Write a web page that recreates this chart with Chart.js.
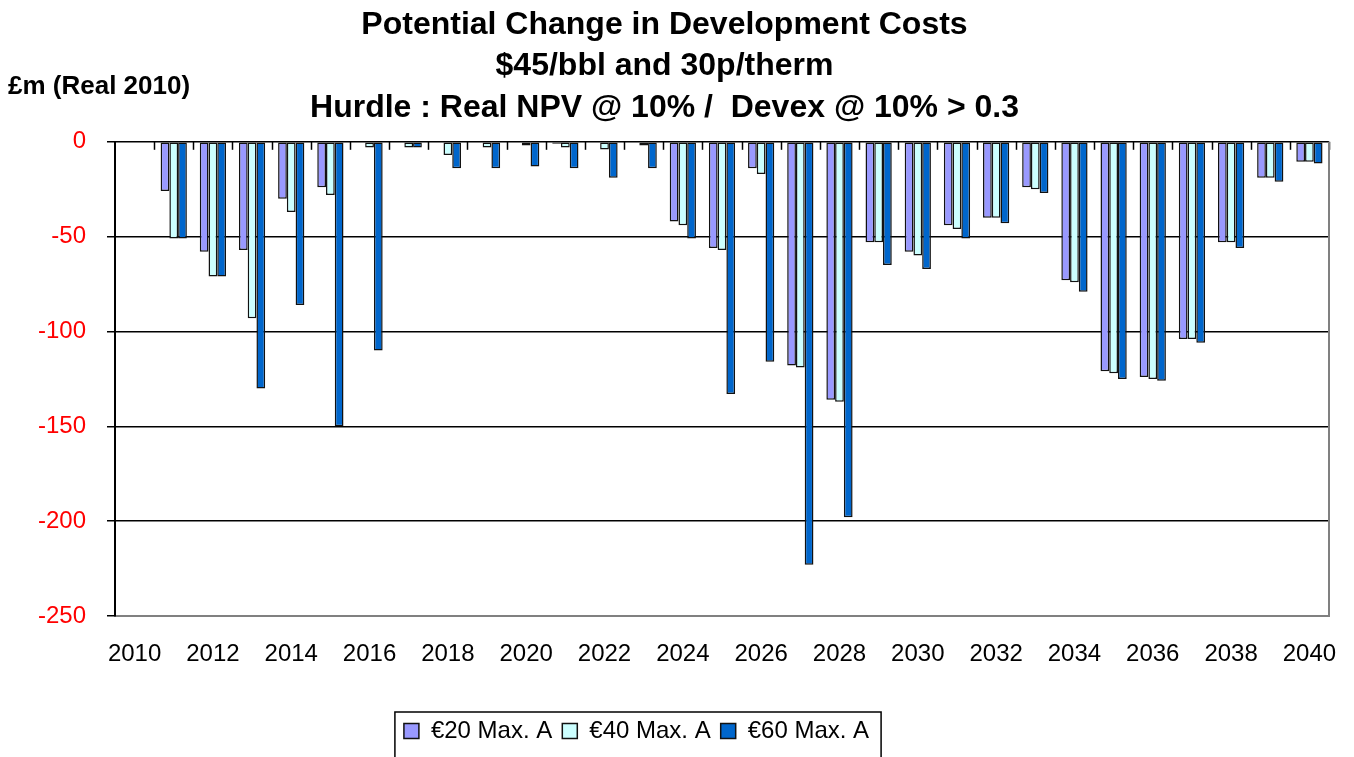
<!DOCTYPE html>
<html>
<head>
  <title>Potential Change in Development Costs</title>
  <style>
    html, body { margin: 0; padding: 0; background: #fff; }
    #wrap { width: 1354px; height: 757px; }
  </style>
</head>
<body>
  <div id="wrap"><canvas id="canvas" width="1354" height="757"></canvas></div>
  <script src="https://cdn.jsdelivr.net/npm/chart.js"></script>
  <script>
    // Years on the category axis
    const years = [2010, 2011, 2012, 2013, 2014, 2015, 2016, 2017, 2018, 2019, 2020,
                   2021, 2022, 2023, 2024, 2025, 2026, 2027, 2028, 2029, 2030,
                   2031, 2032, 2033, 2034, 2035, 2036, 2037, 2038, 2039, 2040];

    // £m (Real 2010)
    const eur20 = [0, -26, -58, -57, -30, -24, 0, 0, 0, 0, 0,
                   -1, 0, 0, -42, -56, -14, -118, -136, -53, -58,
                   -44, -40, -24, -73, -121, -124, -104, -53, -19, -10.5];
    const eur40 = [0, -51, -71, -93, -37, -28, -3, -3, -7, -3, -2,
                   -3, -4, -2, -44, -57, -17, -119, -137, -53, -60,
                   -46, -40, -25, -74, -122, -125, -104, -53, -19, -10.5];
    const eur60 = [0, -51, -71, -130, -86, -150, -110, -3, -14, -14, -13,
                   -14, -19, -14, -51, -133, -116, -223, -198, -65, -67,
                   -51, -43, -27, -79, -125, -126, -106, -56, -21, -11.5];

    const seriesNames = ['€20 Max. A', '€40 Max. A', '€60 Max. A'];
    const yTicks = [0, -50, -100, -150, -200, -250];

    const titleLines = ['Potential Change in Development Costs',
                        '$45/bbl and 30p/therm',
                        'Hurdle : Real NPV @ 10% /  Devex @ 10% > 0.3'];
    const unitLabel = '£m (Real 2010)';

    const FONT = '"Liberation Sans", Arial, sans-serif';

    // extra bits Excel draws: unit label, tick marks on the zero line, plot border, legend box
    const extras = {
      id: 'extras',
      afterLayout(chart) {
        // legend sits a bit left of centre in the original
        const lg = chart.legend;
        lg.left -= 28;
        lg.right -= 28;
      },
      beforeDatasetsDraw(chart) {
        const ctx = chart.ctx;
        const area = chart.chartArea;
        const xs = chart.scales.x;
        const ys = chart.scales.y;
        const n = years.length;
        const w = (area.right - area.left) / n;
        const y0 = ys.getPixelForValue(0);
        ctx.save();
        ctx.strokeStyle = '#000';
        ctx.lineWidth = 1.5;
        for (let i = 1; i <= n; i++) {
          const x = Math.round(xs.getPixelForValue(i - 1) + w / 2) + 0.5;
          ctx.beginPath();
          ctx.moveTo(x, y0);
          ctx.lineTo(x, y0 + 8);
          ctx.stroke();
        }
        // right border of the plot area
        ctx.strokeStyle = '#808080';
        ctx.lineWidth = 2;
        ctx.beginPath();
        ctx.moveTo(area.right, area.top);
        ctx.lineTo(area.right, area.bottom);
        ctx.stroke();
        ctx.restore();
      },
      afterDraw(chart) {
        const ctx = chart.ctx;
        ctx.save();
        ctx.fillStyle = '#000';
        ctx.font = 'bold 26px ' + FONT;
        ctx.textBaseline = 'middle';
        ctx.textAlign = 'left';
        ctx.fillText(unitLabel, 8, 87);

        // box round the legend
        const boxes = chart.legend.legendHitBoxes;
        if (boxes && boxes.length) {
          const l = Math.min(...boxes.map(b => b.left)) - 9;
          const r = Math.max(...boxes.map(b => b.left + b.width)) + 12;
          const t = Math.min(...boxes.map(b => b.top)) - 7;
          ctx.strokeStyle = '#000';
          ctx.lineWidth = 1.5;
          ctx.strokeRect(l, t, r - l, 80);
        }
        ctx.restore();
      }
    };

    const ctx = document.getElementById('canvas').getContext('2d');
    const barStyle = {
      borderColor: '#111',
      borderWidth: 1.5,
      borderSkipped: false,
      categoryPercentage: 0.67,
      barPercentage: 1.0
    };

    const chart = new Chart(ctx, {
      type: 'bar',
      data: {
        labels: years,
        datasets: [
          Object.assign({ label: seriesNames[0], data: eur20, backgroundColor: '#9999FF' }, barStyle),
          Object.assign({ label: seriesNames[1], data: eur40, backgroundColor: '#CCFFFF' }, barStyle),
          Object.assign({ label: seriesNames[2], data: eur60, backgroundColor: '#0066CC' }, barStyle)
        ]
      },
      plugins: [extras],
      options: {
        responsive: false,
        animation: false,
        devicePixelRatio: 1,
        layout: { padding: { left: 0, right: 25, top: 0, bottom: 4 } },
        plugins: {
          title: {
            display: true,
            text: titleLines,
            color: '#000',
            font: { family: FONT, size: 32, weight: 'bold', lineHeight: 1.3 },
            padding: { top: 4, bottom: 13 }
          },
          legend: {
            display: true,
            position: 'bottom',
            labels: {
              color: '#000',
              font: { family: FONT, size: 24 },
              boxWidth: 15,
              boxHeight: 15,
              padding: 10
            }
          },
          tooltip: { enabled: false }
        },
        scales: {
          x: {
            type: 'category',
            offset: true,
            grid: { display: false, drawTicks: false },
            border: { display: true, color: '#808080', width: 2 },
            ticks: {
              autoSkip: false,
              maxRotation: 0,
              minRotation: 0,
              padding: 24,
              color: '#000',
              font: { family: FONT, size: 24 },
              callback: function (value, index) {
                const yr = years[index];
                return yr % 2 === 0 ? String(yr) : '';
              }
            },
            afterFit: function (scale) {
              scale.height = 93;
              scale.paddingLeft = 0;
              scale.paddingRight = 0;
            }
          },
          y: {
            min: -250,
            max: 0,
            grid: {
              color: c => (c.tick && c.tick.value === -250) ? '#808080' : '#000',
              lineWidth: 1.5,
              drawTicks: true,
              tickLength: 8,
              tickColor: '#000'
            },
            border: { display: true, color: '#000', width: 2 },
            afterBuildTicks: function (scale) {
              scale.ticks = yTicks.map(v => ({ value: v }));
            },
            ticks: {
              padding: 21,
              color: '#FF0000',
              font: { family: FONT, size: 24 }
            },
            afterFit: function (scale) { scale.width = 115; }
          }
        }
      }
    });
  </script>
</body>
</html>
